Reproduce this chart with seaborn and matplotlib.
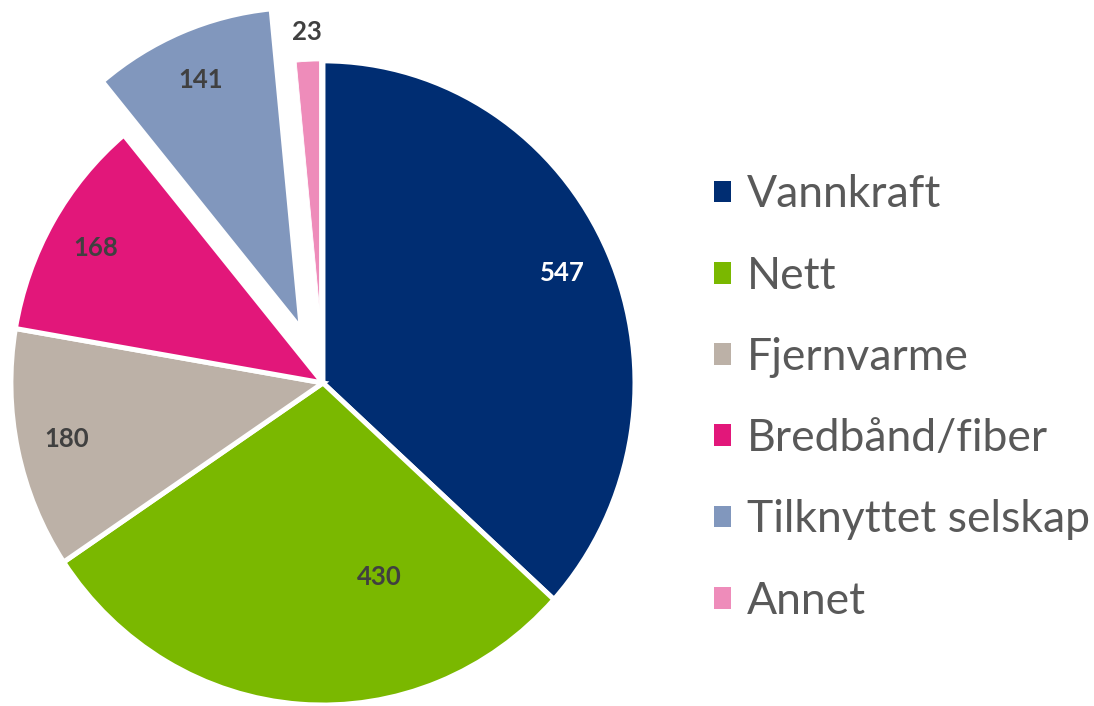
import numpy as np
import matplotlib
matplotlib.use("Agg")
import matplotlib.pyplot as plt
import matplotlib.patches as mpatches
import seaborn as sns

# ---- data ----
categories = ["Vannkraft", "Nett", "Fjernvarme", "Bredbånd/fiber", "Tilknyttet selskap", "Annet"]
values = [547, 430, 180, 168, 141, 23]
hex_colors = ["#002D72", "#7AB800", "#BCB1A7", "#E2177A", "#8197BD", "#EE8CBA"]
explode = [0, 0, 0, 0, 0.18, 0.23]

sns.set_theme(style="white")
plt.rcParams["font.family"] = ["Lato", "DejaVu Sans"]
colors = sns.color_palette(hex_colors)

fig = plt.figure(figsize=(10.94, 7.06), dpi=100)
ax = fig.add_axes([0, 0, 1, 1])

total = sum(values)

def fmt(pct):
    return f"{int(round(pct * total / 100.0))}"

wedges, texts, autotexts = ax.pie(
    values, colors=colors, startangle=90, counterclock=False,
    explode=explode, autopct=fmt, pctdistance=0.84,
    wedgeprops=dict(edgecolor="white", linewidth=3.6),
    textprops=dict(fontsize=18.5, fontweight="bold", color="#404040"),
)

ax.set_aspect("auto")
ax.set_xlim(-1.035, 2.471)
ax.set_ylim(-1.003, 1.189)

# first label in white
autotexts[0].set_color("white")

# Nett label placement (Excel best-fit style)
w = wedges[1]
ang = np.deg2rad(w.theta1 + 0.70 * (w.theta2 - w.theta1))
cx, cy = w.center
autotexts[1].set_position((cx + 0.63 * np.cos(ang), cy + 0.63 * np.sin(ang)))

# Annet: smaller slice, label outside
w = wedges[5]
w.set_radius(0.77)
w.set_linewidth(0.6)
mid = np.deg2rad(0.5 * (w.theta1 + w.theta2))
cx, cy = w.center
autotexts[5].set_position((cx + (0.77 + 0.09) * np.cos(mid), cy + (0.77 + 0.09) * np.sin(mid)))

handles = [mpatches.Patch(facecolor=c, edgecolor="none") for c in colors]
leg = ax.legend(
    handles, categories, loc="upper left", bbox_to_anchor=(0.653, 0.753),
    bbox_transform=fig.transFigure, frameon=False, fontsize=32,
    handlelength=0.38, handleheight=0.38, handletextpad=0.36,
    labelspacing=0.906, borderpad=0, borderaxespad=0,
)
for t in leg.get_texts():
    t.set_color("#595959")

fig.savefig("out.png", dpi=100)
